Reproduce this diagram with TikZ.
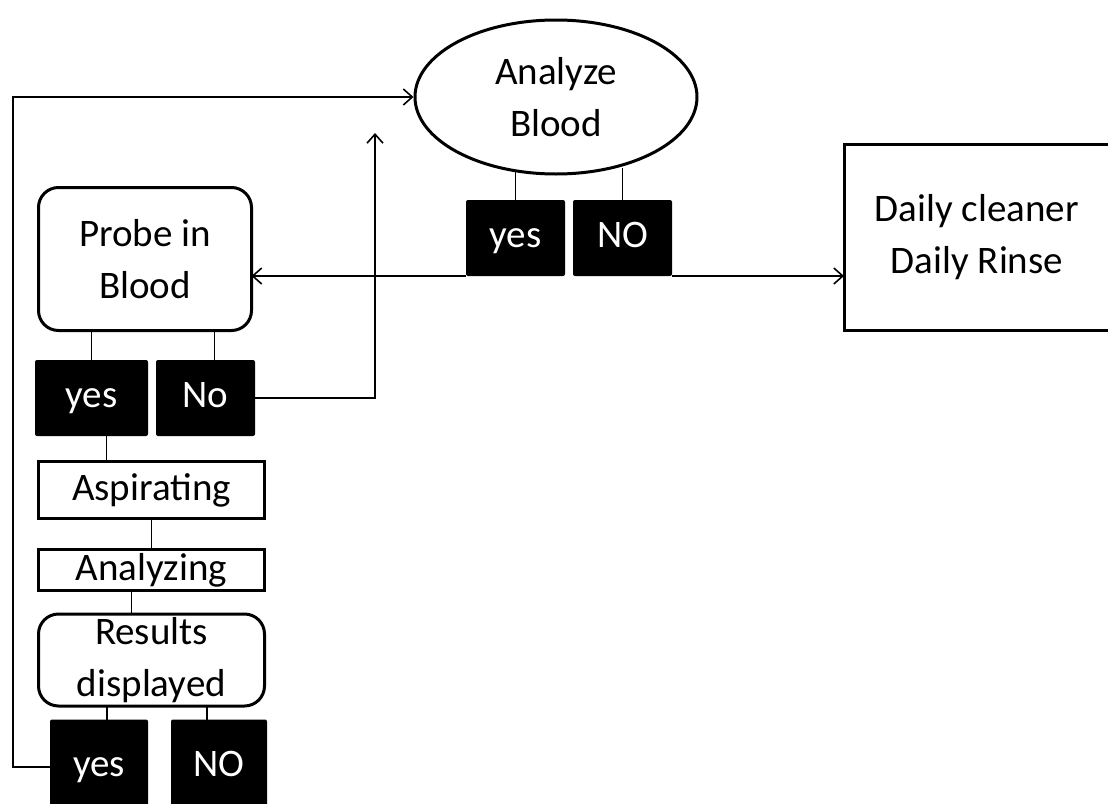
\documentclass[tikz,border=0pt]{standalone}
\usepackage{fontspec}
\setmainfont{Carlito}
\usetikzlibrary{arrows.meta,shapes.geometric}
\newcommand\boxline{3pt}
\newcommand\flowfont{\fontsize{39}{52}\selectfont}

\begin{document}
\begin{tikzpicture}[x=1pt, y=-1pt,
        flowbox/.style={draw, line width=\boxline, inner sep=0pt, outer sep=0pt, align=center, font=\flowfont},
        roundbox/.style={flowbox, rounded corners=20pt},
        answer/.style={fill=black, rounded corners=2pt, text=white, inner sep=0pt, outer sep=0pt, text height=27pt, text depth=8pt, font=\flowfont},
        link/.style={line width=1.6pt},
        flow/.style={link, -{Straight Barb[length=9pt, width=16pt]}}]
        \useasboundingbox (0,0) rectangle (1108,803);
        \clip (0,0) rectangle (1108,803);
        \node[draw, ellipse, line width=\boxline, minimum width=282pt, minimum height=154pt, inner sep=0pt, align=center, font=\flowfont] (analyze) at (556,97) {Analyze\\Blood};
        \node[answer, minimum width=99pt, minimum height=76pt] (ayes) at (515.5,238) {yes};
        \node[answer, minimum width=99pt, minimum height=76pt] (ano) at (622.5,238) {NO};
        \node[flowbox, minimum width=266pt, minimum height=186pt] (daily) at (977,237) {Daily cleaner\\Daily Rinse};
        \node[roundbox, minimum width=213pt, minimum height=143pt] (probe) at (145,259) {Probe in\\Blood};
        \node[answer, minimum width=113pt, minimum height=76pt] (pyes) at (91.5,398) {yes};
        \node[answer, minimum width=99pt, minimum height=76pt] (pno) at (205.5,398) {No};
        \node[flowbox, minimum width=226pt, minimum height=57pt] (aspir) at (151.5,490) {Aspirating};
        \node[flowbox, minimum width=226pt, minimum height=41pt] (analyzing) at (151.5,570) {Analyzing};
        \node[roundbox, minimum width=226pt, minimum height=92pt] (results) at (151.5,660) {Results\\displayed};
        \node[answer, minimum width=98pt, minimum height=95pt] (ryes) at (99,767) {yes};
        \node[answer, minimum width=96pt, minimum height=95pt] (rno) at (219,767) {NO};
        \coordinate (loop) at (13,97);
        \coordinate (uptip) at (375,133);
        \draw[link] (ayes.north) -- (ayes.north |- analyze.242);
        \draw[link] (ano.north) -- (ano.north |- analyze.311);
        \draw[link] (pyes.north) -- (pyes.north |- probe.south);
        \draw[link] ([xshift=9pt]pno.north) -- ([xshift=9pt]pno.north |- probe.south);
        \draw[link] ([xshift=15pt]pyes.south) -- ([xshift=15pt]pyes.south |- aspir.north);
        \draw[link] (aspir.south) -- (analyzing.north);
        \draw[link] ([xshift=-20pt]analyzing.south) -- ([xshift=-20pt]analyzing.south |- results.north);
        \draw[link] ([xshift=8pt]ryes.north) -- ([xshift=8pt]ryes.north |- results.south);
        \draw[link] ([xshift=-12pt]rno.north) -- ([xshift=-12pt]rno.north |- results.south);
        \draw[flow] (ryes.west) -| (loop) -- (analyze.west);
        \draw[flow] (pno.east) -| (uptip);
        \draw[flow] (ayes.south west) -- (ayes.south west -| probe.east);
        \draw[flow] (ano.south east) -- (ano.south east -| daily.west);
    \end{tikzpicture}
\end{document}
